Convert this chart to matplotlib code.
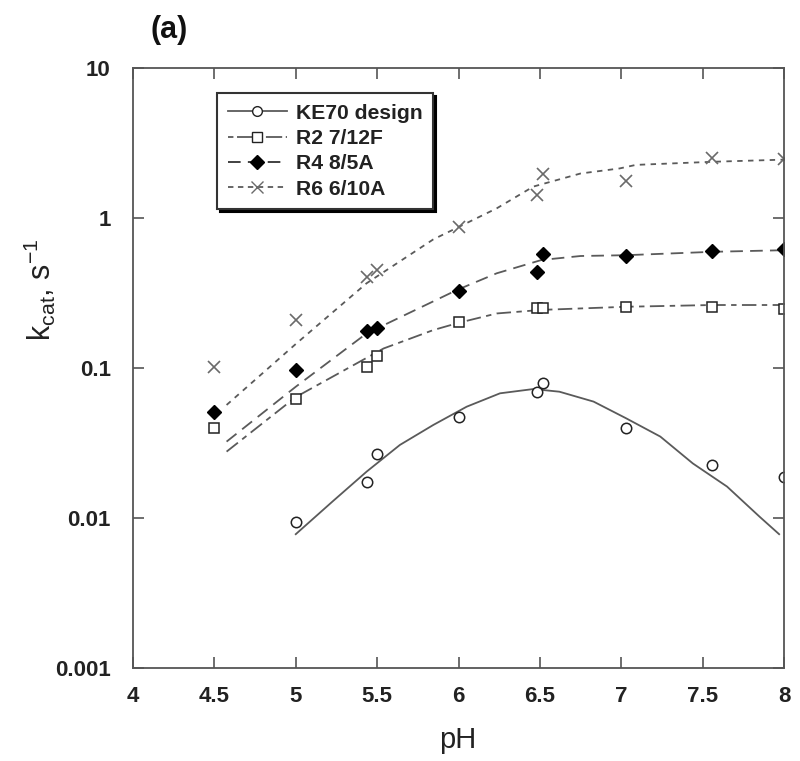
import matplotlib
matplotlib.use("Agg")
import matplotlib.pyplot as plt
from matplotlib.ticker import FixedLocator, FixedFormatter, NullLocator

plt.rcParams['font.family'] = ['Liberation Sans', 'DejaVu Sans']
plt.rcParams['mathtext.fontset'] = 'custom'
plt.rcParams['mathtext.rm'] = 'Liberation Sans'
plt.rcParams['mathtext.it'] = 'Liberation Sans'

# ---------------- data ----------------
ph_points = [4.5, 5.0, 5.44, 5.5, 6.0, 6.48, 6.52, 7.03, 7.56, 8.0]
ke70_ph = [5.0, 5.44, 5.5, 6.0, 6.48, 6.52, 7.03, 7.56, 8.0]
ke70_kcat = [0.0094, 0.0173, 0.0267, 0.0470, 0.0690, 0.0798, 0.0400, 0.0226, 0.0189]
r2_kcat = [0.040, 0.062, 0.101, 0.120, 0.204, 0.250, 0.250, 0.256, 0.256, 0.246]
r4_kcat = [0.051, 0.097, 0.177, 0.186, 0.328, 0.439, 0.573, 0.558, 0.605, 0.621]
r6_kcat = [0.102, 0.209, 0.406, 0.450, 0.867, 1.42, 1.98, 1.77, 2.50, 2.46]

# fitted curves
ke70_fit_ph = [5.0, 5.23, 5.436, 5.64, 5.845, 6.05, 6.255, 6.46, 6.62, 6.83, 7.03, 7.24, 7.44, 7.65, 7.85, 7.97]
ke70_fit = [0.0078, 0.0130, 0.0204, 0.0307, 0.0417, 0.0552, 0.0678, 0.0724, 0.0695, 0.0597, 0.0462, 0.0349, 0.0231, 0.0162, 0.0102, 0.0078]
r2_fit_ph = [4.575, 5.0, 5.54, 5.845, 6.0, 6.235, 6.51, 7.03, 7.56, 8.0]
r2_fit = [0.0277, 0.064, 0.135, 0.179, 0.200, 0.231, 0.244, 0.256, 0.263, 0.263]
r4_fit_ph = [4.575, 5.0, 5.435, 5.99, 6.235, 6.51, 6.75, 7.03, 7.56, 8.0]
r4_fit = [0.0323, 0.075, 0.170, 0.331, 0.428, 0.525, 0.558, 0.565, 0.595, 0.610]
r6_fit_ph = [4.575, 5.0, 5.435, 5.845, 6.0, 6.235, 6.46, 6.75, 6.99, 7.09, 7.56, 8.0]
r6_fit = [0.0567, 0.1445, 0.367, 0.72, 0.87, 1.16, 1.62, 1.98, 2.14, 2.26, 2.37, 2.45]

labels = ['KE70 design', 'R2 7/12F', 'R4 8/5A', 'R6 6/10A']
x_ticks = [4, 4.5, 5, 5.5, 6, 6.5, 7, 7.5, 8]
x_ticklabels = ['4', '4.5', '5', '5.5', '6', '6.5', '7', '7.5', '8']
y_ticks = [0.001, 0.01, 0.1, 1, 10]
y_ticklabels = ['0.001', '0.01', '0.1', '1', '10']

# ---------------- figure ----------------
W, H = 800, 761
fig = plt.figure(figsize=(W / 100, H / 100), dpi=100)
ax = fig.add_axes([133 / W, 1 - 668 / H, (784 - 133) / W, 600 / H])

line_col = '#5a5a5a'
mk_col = '#222222'

# fitted curves
ax.plot(ke70_fit_ph, ke70_fit, color=line_col, lw=1.3, ls='-')
ax.plot(r2_fit_ph, r2_fit, color=line_col, lw=1.3, ls=(0, (8, 3, 3, 3)))
ax.plot(r4_fit_ph, r4_fit, color=line_col, lw=1.3, ls=(0, (7, 4)))
ax.plot(r6_fit_ph, r6_fit, color=line_col, lw=1.3, ls=(0, (3, 3)))

# data points
ax.plot(ke70_ph, ke70_kcat, ls='none', marker='o', ms=7.5, mfc='white', mec=mk_col, mew=1.1)
ax.plot(ph_points, r2_kcat, ls='none', marker='s', ms=7.5, mfc='white', mec=mk_col, mew=1.1)
ax.plot(ph_points, r4_kcat, ls='none', marker='D', ms=7, mfc='black', mec='black', mew=1.0)
ax.plot(ph_points, r6_kcat, ls='none', marker='x', ms=9, mec='#6a6a6a', mew=1.2)

# legend handles (line + marker)
h1, = ax.plot([], [], color=line_col, lw=1.3, ls='-', marker='o', ms=7, mfc='white', mec=mk_col)
h2, = ax.plot([], [], color=line_col, lw=1.3, ls=(0, (3, 2, 9, 2)), marker='s', ms=7, mfc='white', mec=mk_col)
h3, = ax.plot([], [], color='#333333', lw=1.3, ls=(0, (7, 4)), marker='D', ms=7, mfc='black', mec='black')
h4, = ax.plot([], [], color=line_col, lw=1.3, ls=(0, (3, 2.5)), marker='x', ms=9, mec='#6a6a6a')

leg = fig.legend([h1, h2, h3, h4], labels, loc='upper left',
                 bbox_to_anchor=(217 / W, 1 - 93 / H), bbox_transform=fig.transFigure,
                 borderaxespad=0, numpoints=1, handlelength=2.8, handletextpad=0.45,
                 borderpad=0.5, labelspacing=0.3, fancybox=False,
                 shadow={'color': 'black', 'alpha': 1.0},
                 prop={'weight': 'bold', 'size': 15.2})
frame = leg.get_frame()
frame.set_edgecolor('#333333')
frame.set_linewidth(1.5)
for t in leg.get_texts():
    t.set_color('#222222')

# axes
ax.set_yscale('log')
ax.set_xlim(4, 8)
ax.set_ylim(0.001, 10)
ax.xaxis.set_major_locator(FixedLocator(x_ticks))
ax.xaxis.set_major_formatter(FixedFormatter(x_ticklabels))
ax.yaxis.set_major_locator(FixedLocator(y_ticks))
ax.yaxis.set_major_formatter(FixedFormatter(y_ticklabels))
ax.yaxis.set_minor_locator(NullLocator())
ax.xaxis.set_minor_locator(NullLocator())

for s in ax.spines.values():
    s.set_color('#555555')
    s.set_linewidth(1.3)

ax.tick_params(axis='both', which='major', direction='in', length=8, width=1.2,
               color='#555555', top=True, right=True, labelsize=16, labelcolor='#222222')
ax.tick_params(axis='x', pad=13)
ax.tick_params(axis='y', pad=16)
for lab in ax.get_xticklabels() + ax.get_yticklabels():
    lab.set_fontweight('bold')

fig.text(458 / W, 1 - 740 / H, 'pH', ha='center', va='center', fontsize=21, color='#222222')
fig.text(40 / W, 1 - 290 / H, r'k$_{\mathregular{cat}}$, s$^{\mathregular{-1}}$', rotation=90,
         ha='center', va='center', fontsize=22, color='#222222')
fig.text(169 / W, 1 - 30 / H, '(a)', ha='center', va='center', fontsize=22,
         fontweight='bold', color='#111111')

fig.savefig('out.png', dpi=100)
